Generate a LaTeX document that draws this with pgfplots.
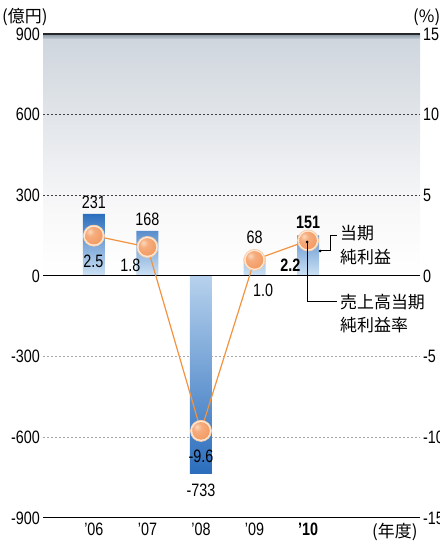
\documentclass[border=0pt]{standalone}
\usepackage{pgfplots}
\pgfplotsset{compat=1.18}
\usepackage{fontspec}
\setmainfont{Liberation Sans}[FakeStretch=0.8]
\newfontfamily\jp{Noto Sans CJK JP}
\definecolor{bDark}{HTML}{2C6EBD}
\definecolor{bLight}{HTML}{CFE3F5}
\definecolor{lineOr}{HTML}{F2933F}
\definecolor{ballOr}{HTML}{F39A62}
\definecolor{ballHi}{HTML}{FCD9BE}
\definecolor{ballLo}{HTML}{E27638}
\definecolor{bgTop}{HTML}{8797A4}
\definecolor{bgMid}{HTML}{CFD6DD}
\definecolor{bgLow}{HTML}{F8F8F9}
\pgfdeclareradialshading{orball}{\pgfpoint{-12bp}{12bp}}{%
  color(0bp)=(ballHi); color(12bp)=(ballOr!70!ballHi); color(35bp)=(ballOr);
  color(60bp)=(ballLo); color(100bp)=(ballLo)}
\pgfdeclareplotmark{oball}{%
  \pgfpathcircle{\pgfpointorigin}{\pgfplotmarksize}%
  \pgfshadepath{orball}{0}%
  \pgfusepath{discard}}
\begin{document}
\begin{tikzpicture}[x=1bp,y=1bp]
\useasboundingbox (0,0) rectangle (440,542);
\pgfplotsset{
  common/.style={
    width=377bp, height=484bp, scale only axis,
    at={(43bp,24bp)}, anchor=south west,
    xmin=-0.95, xmax=6.09,
    axis line style={draw=none}, major tick length=0pt,
    tick label style={font=\fontsize{18}{18}\selectfont},
  }
}
\begin{axis}[common,
  ymin=-900, ymax=900,
  ytick={-900,-600,-300,0,300,600,900},
  yticklabels={-900,-600,-300,0,300,600,900},
  yticklabel style={anchor=east, inner sep=0pt, xshift=-3bp},
  xtick={0,1,2,3,4},
  xticklabels={’06,’07,’08,’09,\textbf{’10}},
  xticklabel style={anchor=north, inner sep=0pt, yshift=-5bp},
  clip=false,
]
% background gradient
\path[top color=bgTop, bottom color=bgMid, draw=none] (axis cs:-0.95,900) rectangle (axis cs:6.09,878);
\path[top color=bgMid, bottom color=bgLow, draw=none] (axis cs:-0.95,878) rectangle (axis cs:6.09,250);
\path[top color=bgLow, bottom color=white, draw=none] (axis cs:-0.95,250) rectangle (axis cs:6.09,0);
% grid lines
\draw[black!75, dash pattern=on 2bp off 2bp, line width=0.7bp] (axis cs:-0.95,600) -- (axis cs:6.09,600);
\draw[black!75, dash pattern=on 2bp off 2bp, line width=0.7bp] (axis cs:-0.95,300) -- (axis cs:6.09,300);
\draw[black!35, dash pattern=on 2bp off 2bp, line width=0.7bp] (axis cs:-0.95,-300) -- (axis cs:6.09,-300);
\draw[black!35, dash pattern=on 2bp off 2bp, line width=0.7bp] (axis cs:-0.95,-600) -- (axis cs:6.09,-600);
% bars
\addplot[ybar, bar width=22bp, bar shift=0pt, draw=none, top color=bDark, bottom color=bLight]
  coordinates {(0,231) (1,168) (3,68) (4,151)};
\addplot[ybar, bar width=22bp, bar shift=0pt, draw=none, top color=bLight!85!bDark, bottom color=bDark]
  coordinates {(2,-733)};
% axis lines
\draw[black!85, line width=1.5bp] (axis cs:-0.95,900) -- (axis cs:6.09,900);
\draw[black, line width=1bp] (axis cs:-0.95,0) -- (axis cs:6.09,0);
\draw[black, line width=1bp] (axis cs:-0.95,-900) -- (axis cs:6.09,-900);
% bar labels
\begin{scope}[every node/.style={font=\fontsize{18}{18}\selectfont, inner sep=0pt}]
\node at (axis cs:0,275) {231};
\node at (axis cs:1,212) {168};
\node at (axis cs:2,-796) {-733};
\node at (axis cs:3,145) {68};
\node at (axis cs:4,201) {\textbf{151}};
\end{scope}
\end{axis}
\begin{axis}[common,
  ymin=-15, ymax=15,
  axis y line*=right, axis x line=none,
  ytick={-15,-10,-5,0,5,10,15},
  yticklabels={-15,-10,-5,0,5,10,15},
  yticklabel style={anchor=west, inner sep=0pt, xshift=3bp},
  xtick=\empty, clip=false,
]
\addplot[lineOr, line width=1.2bp, no marks] coordinates {(0,2.5) (1,1.8) (2,-9.6) (3,1.0) (4,2.2)};
\addplot[only marks, mark=*, mark size=10.5bp, mark options={fill=white!82!lineOr, draw=white!55!lineOr, line width=0.8bp}]
  coordinates {(0,2.5) (1,1.8) (2,-9.6) (3,1.0) (4,2.2)};
\addplot[only marks, mark=oball, mark size=8.8bp]
  coordinates {(0,2.5) (1,1.8) (2,-9.6) (3,1.0) (4,2.2)};
% percent labels (positions in % units)
\begin{scope}[every node/.style={font=\fontsize{18}{18}\selectfont, inner sep=0pt}]
\node at (axis cs:-0.01,0.93) {2.5};
\node at (axis cs:0.68,0.68) {1.8};
\node at (axis cs:2.0,-11.15) {-9.6};
\node at (axis cs:3.16,-0.87) {1.0};
\node at (axis cs:3.67,0.68) {\textbf{2.2}};
\end{scope}
\end{axis}
% annotations
\fill (320,291) circle (1.5bp);
\draw[line width=1bp] (320,291) -- (330,291) -- (330,306) -- (337,306);
\fill (307,300) circle (1.5bp);
\draw[line width=1bp] (307,300) -- (307,240) -- (337,240);
\begin{scope}[every node/.style={font=\jp\fontsize{17}{17}\selectfont, inner sep=0pt, anchor=west}]
\node at (340,309) {当期};
\node at (340,285) {純利益};
\node at (340,240) {売上高当期};
\node at (340,217) {純利益率};
\node at (2,525) {(億円)};
\node at (413,525) {(\%)};
\node at (372,10) {(年度)};
\end{scope}
\end{tikzpicture}
\end{document}
